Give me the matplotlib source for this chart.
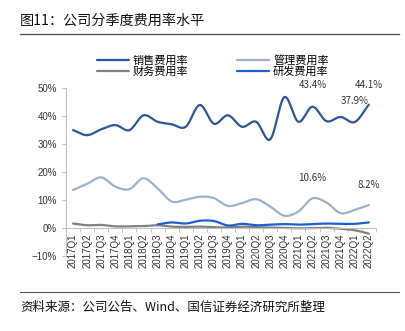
import matplotlib
matplotlib.use('Agg')
import matplotlib.pyplot as plt
import numpy as np

plt.rcParams['font.family'] = ['Liberation Sans', 'Noto Sans CJK SC', 'DejaVu Sans']

quarters = ['2017Q1', '2017Q2', '2017Q3', '2017Q4', '2018Q1', '2018Q2', '2018Q3', '2018Q4',
            '2019Q1', '2019Q2', '2019Q3', '2019Q4', '2020Q1', '2020Q2', '2020Q3', '2020Q4',
            '2021Q1', '2021Q2', '2021Q3', '2021Q4', '2022Q1', '2022Q2']
sales = [35.0, 33.2, 35.3, 36.8, 35.0, 40.3, 38.0, 37.1, 36.2, 44.0, 37.3, 40.3,
         36.2, 38.0, 31.7, 46.8, 38.0, 43.4, 38.2, 39.7, 37.9, 44.1]
admin = [13.6, 15.8, 18.1, 14.8, 13.9, 17.8, 14.2, 9.5, 10.1, 11.2, 10.7, 7.9,
         8.9, 10.3, 7.7, 4.4, 5.9, 10.6, 9.1, 5.3, 6.5, 8.2]
finance = [1.6, 1.0, 1.1, 0.6, 0.6, 0.7, 1.0, 0.5, 0.4, 0.5, 0.3, 0.2,
           0.5, 0.3, 0.2, 0.1, -0.1, 0.0, 0.1, -0.3, -0.8, -2.0]
rd = [None] * 6 + [1.3, 2.0, 1.6, 2.6, 2.5, 0.9, 1.5, 1.0, 1.2, 1.4, 1.2, 1.4, 1.6, 1.5, 1.5, 2.0]

labels = [(17, 43.4, '43.4%', 7.9), (21, 44.1, '44.1%', 7.2), (20, 37.9, '37.9%', 7.6),
          (17, 10.6, '10.6%', 7.4), (21, 8.2, '8.2%', 7.2)]


def smooth(xs, ys, n=20):
    # Catmull-Rom curve through the points, like Excel's smoothed line
    xs = np.asarray(xs, float)
    ys = np.asarray(ys, float)
    px = np.concatenate([[2 * xs[0] - xs[1]], xs, [2 * xs[-1] - xs[-2]]])
    py = np.concatenate([[2 * ys[0] - ys[1]], ys, [2 * ys[-1] - ys[-2]]])
    ox, oy = [], []
    t = np.linspace(0, 1, n, endpoint=False)
    for i in range(1, len(px) - 2):
        for p, o in ((px, ox), (py, oy)):
            p0, p1, p2, p3 = p[i - 1], p[i], p[i + 1], p[i + 2]
            o.extend(0.5 * (2 * p1 + (-p0 + p2) * t + (2 * p0 - 5 * p1 + 4 * p2 - p3) * t ** 2
                            + (-p0 + 3 * p1 - 3 * p2 + p3) * t ** 3))
    ox.append(xs[-1])
    oy.append(ys[-1])
    return ox, oy


fig = plt.figure(figsize=(4.05, 3.31), dpi=100)
ax = fig.add_axes([0.163, 0.2266, 0.765, 0.507])

series = [(sales, '销售费用率', '#2f5597'), (admin, '管理费用率', '#9eb0c5'),
          (finance, '财务费用率', '#808080'), (rd, '研发费用率', '#1c5fd0')]
handles = {}
for vals, name, col in series:
    idx = [i for i, v in enumerate(vals) if v is not None]
    sx, sy = smooth(idx, [vals[i] for i in idx])
    handles[name], = ax.plot(sx, sy, color=col, lw=1.6, label=name, solid_capstyle='round')

for i, v, txt, dy in labels:
    ax.text(i, v + dy, txt, fontsize=7, ha='center', va='center', color='#333333',
            family=['Noto Sans CJK SC'])

ax.set_xlim(-0.5, len(quarters) - 0.5)
ax.set_ylim(-10, 50)
ax.set_yticks(np.arange(-10, 51, 10))
ax.set_yticklabels(['%d%%' % v if v >= 0 else '\u221210%' for v in range(-10, 51, 10)])
ax.set_xticks(range(len(quarters)))
ax.set_xticklabels(quarters)
ax.set_xticks(np.arange(-0.5, len(quarters), 1), minor=True)
ax.tick_params(axis='x', which='major', length=0, labelsize=7, pad=4, colors='#333333',
               labelrotation=90)
ax.tick_params(axis='x', which='minor', length=3, color='#bfbfbf', direction='out')
ax.tick_params(axis='y', length=3, color='#bfbfbf', labelsize=7, colors='#333333')
for t in ax.get_xticklabels():
    t.set_verticalalignment('top')
ax.spines['bottom'].set_position(('data', 0))
ax.spines['bottom'].set_color('#bfbfbf')
ax.spines['left'].set_color('#bfbfbf')
ax.spines['top'].set_visible(False)
ax.spines['right'].set_visible(False)

order = ['销售费用率', '财务费用率', '管理费用率', '研发费用率']
fig.legend([handles[k] for k in order], order, loc='upper center', bbox_to_anchor=(0.526, 0.835),
           ncol=2, frameon=False, handlelength=2.8, columnspacing=4.4, labelspacing=0.1,
           handletextpad=0.4, borderaxespad=0.0, borderpad=0.0,
           prop={'family': 'Noto Sans CJK SC', 'size': 8})

fig.text(0.05, 0.938, '图11：公司分季度费用率水平', fontsize=10.2, family=['Noto Sans CJK SC'],
         va='center', color='#111111')
fig.add_artist(plt.Line2D([0.05, 0.985], [0.898, 0.898], color='#555555', lw=1.0))
fig.add_artist(plt.Line2D([0.05, 0.985], [0.117, 0.117], color='#555555', lw=0.8))
fig.text(0.05, 0.072, '资料来源：公司公告、Wind、国信证券经济研究所整理', fontsize=9,
         family=['Noto Sans CJK SC'], va='center', color='#111111')

fig.savefig('out.png', dpi=100)
